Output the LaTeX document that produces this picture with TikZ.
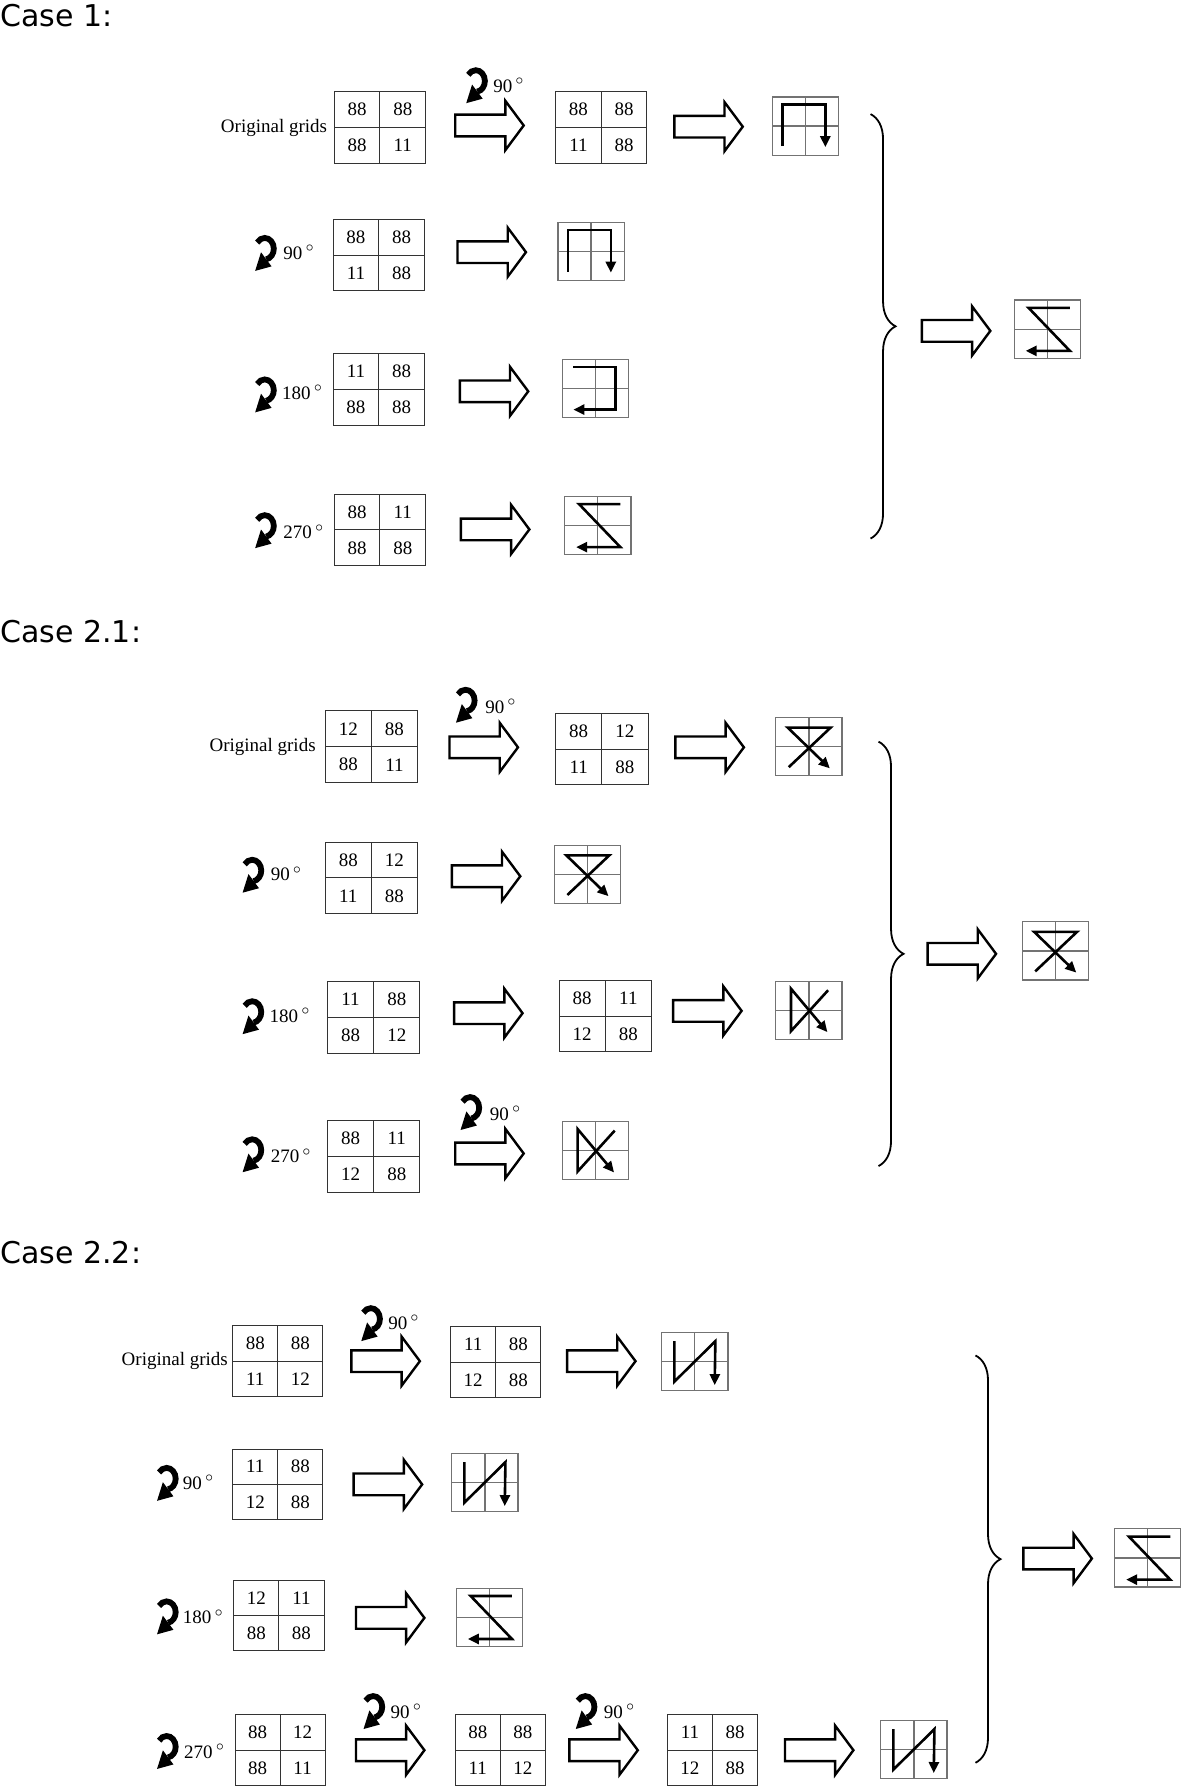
\documentclass[tikz,border=0pt]{standalone}
\usepackage{fontspec}
\setmainfont{Liberation Serif}
\newfontfamily\casefont{DejaVu Sans}
\usetikzlibrary{arrows.meta,decorations.pathreplacing}
\def\pG{(8.7,43)--(8.7,6.5)--(46.4,6.5)--(46.4,44)}
\def\pU{(9.3,6.6)--(46.4,6.6)--(46.4,44)--(9.5,44)}
\def\pZ{(48.7,6.8)--(12.5,6.8)--(48.7,44.5)--(10,44.5)}
\def\pX{(11.3,43.4)--(48,8.7)--(10.4,8.7)--(47.3,44.4)}
\def\pK{(45.8,7.9)--(13.3,43.7)--(13.3,6.6)--(45.2,44.6)}
\def\pN{(11,7.5)--(11,43)--(47,7.5)--(46.4,46)}
\def\gw{80}\def\gh{63}
\begin{document}
\begin{tikzpicture}[x=0.5705pt,y=-0.5705pt,
  gline/.style={draw=black!80, line width=0.5pt},
  pline/.style={draw=black!55, line width=0.6pt},
  trail/.style={line width=1.3pt, line join=miter, -{Triangle[length=5.5pt,width=5pt]}},
  hollow/.style={draw=black, line width=1.2pt, fill=white, line join=miter},
  num/.style={font=\fontsize{9.5}{11}\selectfont, inner sep=0pt},
  lbl/.style={font=\fontsize{9.5}{11}\selectfont, inner sep=0pt},
  casehd/.style={font=\casefont\fontsize{15}{18}\selectfont, inner sep=0pt, anchor=base west},
  bracestyle/.style={decorate, decoration={brace, amplitude=12.5pt}, line width=0.9pt},
  pics/numgrid/.style n args={4}{code={
     \draw[gline] (0,0) rectangle (\gw,\gh);
     \draw[gline] ({\gw/2},0) -- ({\gw/2},\gh);
     \draw[gline] (0,{\gh/2}) -- (\gw,{\gh/2});
     \node[num] (-a) at ({\gw/4},{\gh/4}) {#1};
     \node[num] (-b) at ({3*\gw/4},{\gh/4}) {#2};
     \node[num] (-c) at ({\gw/4},{3*\gh/4}) {#3};
     \node[num] (-d) at ({3*\gw/4},{3*\gh/4}) {#4};
  }},
  pics/pathicon/.style={code={
     \draw[pline] (0,0) rectangle (58,51);
     \draw[pline] (29,0) -- (29,51);
     \draw[pline] (0,25.5) -- (58,25.5);
     \draw[trail] #1;
  }},
  pics/bigarrow/.style={code={
     \draw[hollow] (0,-9.5) -- (44,-9.5) -- (44,-21.5) -- (60,0) -- (44,21.5) -- (44,9.5) -- (0,9.5) -- cycle;
  }},
  pics/roticon/.style={code={
     \begin{scope}[yscale=1.18]
     \draw[line width=2.9pt] (4.447,6.411) .. controls (5.945,4.273) and (8.39,3) .. (11,3)
        .. controls (15.418,3) and (19,6.582) .. (19,11)
        .. controls (19,14.882) and (16.212,18.203) .. (12.389,18.878);
     \fill (17.01,24.13) -- (2.64,27.46) -- (7.77,13.63) -- cycle;
     \end{scope}
  }},
]
\useasboundingbox (0,0) rectangle (1035,1568);

% ---------------- Case 1 ----------------
\node[casehd] (h1) at (0,23) {Case 1:};
\node[lbl, anchor=east] (o1) at (287,112) {Original grids};
\def\gw{80}\def\gh{63}
\pic (c1g1) at (293,80) {numgrid={88}{88}{88}{11}};
\pic (c1r1) at (406,58) {roticon};
\node[lbl,anchor=west] (c1t1) at (432,75) {90\,$^\circ$};
\pic (c1a1) at (399,110) {bigarrow};
\pic (c1g2) at (487,80) {numgrid={88}{88}{11}{88}};
\pic (c1a2) at (591,111) {bigarrow};
\pic (c1p1) at (677,85) {pathicon=\pG};

\pic (c1r2) at (221,205) {roticon};
\node[lbl,anchor=west] (c1t2) at (248,221) {90\,$^\circ$};
\pic (c1g3) at (292,192) {numgrid={88}{88}{11}{88}};
\pic (c1a3) at (401,221) {bigarrow};
\pic (c1p2) at (489,195) {pathicon=\pG};

\pic (c1r3) at (221,329) {roticon};
\node[lbl,anchor=west] (c1t3) at (247,344) {180\,$^\circ$};
\pic (c1g4) at (292,310) {numgrid={11}{88}{88}{88}};
\pic (c1a4) at (403,343) {bigarrow};
\pic (c1p3) at (493,315) {pathicon=\pU};

\pic (c1r4) at (221,448) {roticon};
\node[lbl,anchor=west] (c1t4) at (248,466) {270\,$^\circ$};
\pic (c1g5) at (293,433) {numgrid={88}{11}{88}{88}};
\pic (c1a5) at (404,464) {bigarrow};
\pic (c1p4) at (495,435) {pathicon=\pZ};

\coordinate (c1top) at (763,100);
\coordinate (c1bot) at (763,472);
\draw[bracestyle] (c1top) -- (c1bot);
\pic (c1a6) at (808,290) {bigarrow};
\pic (c1p5) at (889,263) {pathicon=\pZ};

% ---------------- Case 2.1 ----------------
\node[casehd] (h2) at (0,563) {Case 2.1:};
\node[lbl, anchor=east] (o2) at (277,655) {Original grids};
\def\gw{81}\def\gh{63}
\pic (c2g1) at (285,623) {numgrid={12}{88}{88}{11}};
\pic (c2r1) at (397,601) {roticon};
\node[lbl,anchor=west] (c2t1) at (425,619) {90\,$^\circ$};
\pic (c2a1) at (394,655) {bigarrow};
\pic (c2g2) at (487,625) {numgrid={88}{12}{11}{88}};
\pic (c2a2) at (592,655) {bigarrow};
\pic (c2p1) at (680,629) {pathicon=\pX};

\pic (c2r2) at (210,750) {roticon};
\node[lbl,anchor=west] (c2t2) at (237,766) {90\,$^\circ$};
\pic (c2g3) at (285,738) {numgrid={88}{12}{11}{88}};
\pic (c2a3) at (396,768) {bigarrow};
\pic (c2p2) at (486,741) {pathicon=\pX};

\pic (c2r3) at (210,874) {roticon};
\node[lbl,anchor=west] (c2t3) at (236,890) {180\,$^\circ$};
\pic (c2g4) at (287,860) {numgrid={11}{88}{88}{12}};
\pic (c2a4) at (398,888) {bigarrow};
\pic (c2g5) at (490,859) {numgrid={88}{11}{12}{88}};
\pic (c2a5) at (590,886) {bigarrow};
\pic (c2p3) at (680,860) {pathicon=\pK};

\pic (c2r4) at (210,995) {roticon};
\node[lbl,anchor=west] (c2t4) at (237,1013) {270\,$^\circ$};
\pic (c2g6) at (287,982) {numgrid={88}{11}{12}{88}};
\pic (c2r5) at (401,958) {roticon};
\node[lbl,anchor=west] (c2t5) at (429,976) {90\,$^\circ$};
\pic (c2a6) at (399,1011) {bigarrow};
\pic (c2p4) at (493,983) {pathicon=\pK};

\coordinate (c2top) at (770,650);
\coordinate (c2bot) at (770,1022);
\draw[bracestyle] (c2top) -- (c2bot);
\pic (c2a7) at (813,836) {bigarrow};
\pic (c2p5) at (896,808) {pathicon=\pX};

% ---------------- Case 2.2 ----------------
\node[casehd] (h3) at (0,1107) {Case 2.2:};
\node[lbl, anchor=east] (o3) at (200,1193) {Original grids};
\def\gw{79}\def\gh{62}
\pic (c3g1) at (204,1162) {numgrid={88}{88}{11}{12}};
\pic (c3r1) at (314,1143) {roticon};
\node[lbl,anchor=west] (c3t1) at (340,1159) {90\,$^\circ$};
\pic (c3a1) at (308,1193) {bigarrow};
\pic (c3g2) at (395,1163) {numgrid={11}{88}{12}{88}};
\pic (c3a2) at (497,1193) {bigarrow};
\pic (c3p1) at (580,1168) {pathicon=\pN};

\pic (c3r2) at (135,1283) {roticon};
\node[lbl,anchor=west] (c3t2) at (160,1299) {90\,$^\circ$};
\pic (c3g3) at (204,1270) {numgrid={11}{88}{12}{88}};
\pic (c3a3) at (310,1301) {bigarrow};
\pic (c3p2) at (396,1274) {pathicon=\pN};

\pic (c3r3) at (135,1400) {roticon};
\node[lbl,anchor=west] (c3t3) at (160,1417) {180\,$^\circ$};
\pic (c3g4) at (205,1385) {numgrid={12}{11}{88}{88}};
\pic (c3a4) at (312,1418) {bigarrow};
\pic (c3p3) at (400,1392) {pathicon=\pZ};

\pic (c3r4) at (135,1518) {roticon};
\node[lbl,anchor=west] (c3t4) at (161,1535) {270\,$^\circ$};
\pic (c3g5) at (206,1503) {numgrid={88}{12}{88}{11}};
\pic (c3r5) at (316,1483) {roticon};
\node[lbl,anchor=west] (c3t5) at (342,1500) {90\,$^\circ$};
\pic (c3a5) at (312,1534) {bigarrow};
\pic (c3g6) at (399,1503) {numgrid={88}{88}{11}{12}};
\pic (c3r6) at (502,1483) {roticon};
\node[lbl,anchor=west] (c3t6) at (529,1500) {90\,$^\circ$};
\pic (c3a6) at (499,1534) {bigarrow};
\pic (c3g7) at (585,1503) {numgrid={11}{88}{12}{88}};
\pic (c3a7) at (688,1534) {bigarrow};
\pic (c3p4) at (772,1508) {pathicon=\pN};

\coordinate (c3top) at (855,1188);
\coordinate (c3bot) at (855,1545);
\draw[bracestyle] (c3top) -- (c3bot);
\pic (c3a8) at (897,1366) {bigarrow};
\pic (c3p5) at (977,1340) {pathicon=\pZ};
\end{tikzpicture}
\end{document}
